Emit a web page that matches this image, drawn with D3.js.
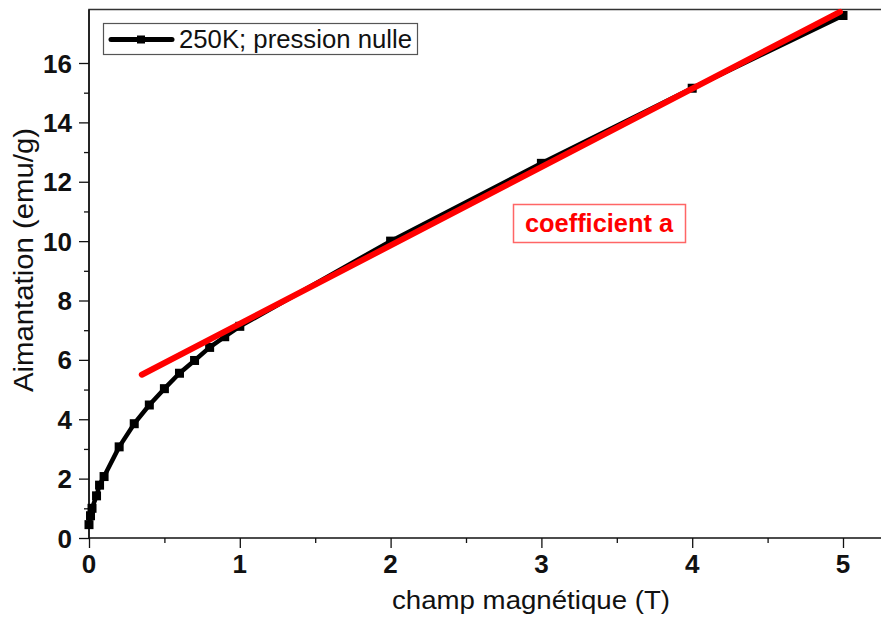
<!DOCTYPE html>
<html lang="fr">
<head>
  <meta charset="UTF-8" />
  <title>Aimantation - 250K</title>
  <script src="https://d3js.org/d3.v7.min.js"></script>
  <style>
    body {
      margin: 0;
      padding: 0;
      background: #fff;
      font-family: Arial, "Liberation Sans", sans-serif;
    }
    svg {
      display: block;
    }
    .tick-label {
      font-weight: bold;
      font-size: 26px;
      fill: #111;
    }
  </style>
</head>
<body>
  <svg width="881" height="618"></svg>

  <script>
    // champ (T) et aimantation (emu/g)
    const champ = [0, 0.01, 0.02, 0.05, 0.07, 0.1, 0.2, 0.3, 0.4, 0.5, 0.6, 0.7, 0.8, 0.9, 1, 2, 3, 4, 5];
    const aimantation = [0.45, 0.75, 1.0, 1.42, 1.78, 2.07, 3.07, 3.85, 4.48, 5.03, 5.55, 5.98, 6.42, 6.78, 7.13, 10.0, 12.62, 15.15, 17.6];

    // droite rouge (coefficient a)
    const ajustX = [0.35, 4.98];
    const ajustY = [5.5, 17.72];

    const xTicks = [0, 1, 2, 3, 4, 5];
    const yTicks = [0, 2, 4, 6, 8, 10, 12, 14, 16];
    const legende = "250K; pression nulle";
    const annotation = "coefficient a";

    const svg = d3.select("svg");
    const mLeft = 89, mTop = 9.5, mBottom = 538, mRight = 890;

    const x = d3.scaleLinear().domain([0, 5]).range([mLeft, 843]);
    const y = d3.scaleLinear().domain([0, 16]).range([mBottom, 63]);

    // cadre
    svg.append("path")
      .attr("d", `M${mLeft},${mBottom}V${mTop}H${mRight}`)
      .attr("fill", "none")
      .attr("stroke", "#333")
      .attr("stroke-width", 1.5);

    // axe x
    const xAxis = d3.axisBottom(x)
      .tickValues(d3.range(0, 5.01, 0.5))
      .tickSize(5)
      .tickFormat("");
    const gx = svg.append("g").attr("transform", `translate(0,${mBottom})`).call(xAxis);
    gx.select(".domain").attr("d", `M${mLeft},0H${mRight}`).attr("stroke", "#111").attr("stroke-width", 1.5);
    gx.selectAll(".tick line")
      .attr("stroke", "#111").attr("stroke-width", 1.3)
      .attr("y2", (d) => xTicks.includes(d) ? 10 : 5);
    svg.selectAll(".xlab")
      .data(xTicks)
      .enter()
      .append("text")
      .attr("class", "tick-label")
      .attr("x", (d) => x(d))
      .attr("y", 573)
      .attr("text-anchor", "middle")
      .text((d) => d);

    // axe y
    const yAxis = d3.axisLeft(y)
      .tickValues(d3.range(0, 17, 1))
      .tickSize(5)
      .tickFormat("");
    const gy = svg.append("g").attr("transform", `translate(${mLeft},0)`).call(yAxis);
    gy.select(".domain").attr("d", `M0,${mBottom}V${mTop}`).attr("stroke", "#111").attr("stroke-width", 1.5);
    gy.selectAll(".tick line")
      .attr("stroke", "#111").attr("stroke-width", 1.3)
      .attr("x2", (d) => yTicks.includes(d) ? -10 : -5);
    svg.selectAll(".ylab")
      .data(yTicks)
      .enter()
      .append("text")
      .attr("class", "tick-label")
      .attr("x", 72)
      .attr("y", (d) => y(d) + 9.5)
      .attr("text-anchor", "end")
      .text((d) => d);

    // titres des axes
    svg.append("text")
      .attr("x", 392)
      .attr("y", 609)
      .attr("font-size", 25)
      .attr("textLength", 278)
      .attr("lengthAdjust", "spacingAndGlyphs")
      .attr("fill", "#111")
      .text("champ magnétique (T)");

    svg.append("text")
      .attr("transform", "translate(33,392) rotate(-90)")
      .attr("font-size", 27)
      .attr("textLength", 264)
      .attr("lengthAdjust", "spacingAndGlyphs")
      .attr("fill", "#111")
      .text("Aimantation (emu/g)");

    // courbe noire
    const pts = champ.map((c, i) => [c, aimantation[i]]);
    const line = d3.line().x((d) => x(d[0])).y((d) => y(d[1]));

    svg.append("path")
      .datum(pts)
      .attr("d", line)
      .attr("fill", "none")
      .attr("stroke", "#000")
      .attr("stroke-width", 4.5)
      .attr("stroke-linejoin", "round");

    svg.selectAll(".pt")
      .data(pts)
      .enter()
      .append("rect")
      .attr("class", "pt")
      .attr("x", (d) => x(d[0]) - 4.5)
      .attr("y", (d) => y(d[1]) - 4.5)
      .attr("width", 9)
      .attr("height", 9)
      .attr("fill", "#000");

    // droite rouge
    svg.append("path")
      .datum(ajustX.map((c, i) => [c, ajustY[i]]))
      .attr("d", line)
      .attr("stroke", "#f00")
      .attr("stroke-width", 6)
      .attr("stroke-linecap", "round");

    // annotation
    svg.append("rect")
      .attr("x", 513.5).attr("y", 204.5)
      .attr("width", 172).attr("height", 38)
      .attr("fill", "#fff")
      .attr("stroke", "#f66")
      .attr("stroke-width", 1.5);
    svg.append("text")
      .attr("x", 525)
      .attr("y", 232)
      .attr("font-size", 26)
      .attr("font-weight", "bold")
      .attr("textLength", 148)
      .attr("lengthAdjust", "spacingAndGlyphs")
      .attr("fill", "#f00")
      .text(annotation);

    // légende
    svg.append("rect")
      .attr("x", 103.5).attr("y", 23.5)
      .attr("width", 314).attr("height", 31)
      .attr("fill", "#fff")
      .attr("stroke", "#555")
      .attr("stroke-width", 1.2);
    svg.append("line")
      .attr("x1", 111).attr("x2", 172)
      .attr("y1", 39.5).attr("y2", 39.5)
      .attr("stroke", "#000")
      .attr("stroke-width", 5)
      .attr("stroke-linecap", "round");
    svg.append("rect")
      .attr("x", 137).attr("y", 35.5)
      .attr("width", 8).attr("height", 8)
      .attr("fill", "#000");
    svg.append("text")
      .attr("x", 179)
      .attr("y", 48)
      .attr("font-size", 25)
      .attr("textLength", 233)
      .attr("lengthAdjust", "spacingAndGlyphs")
      .attr("fill", "#111")
      .text(legende);
  </script>
</body>
</html>
